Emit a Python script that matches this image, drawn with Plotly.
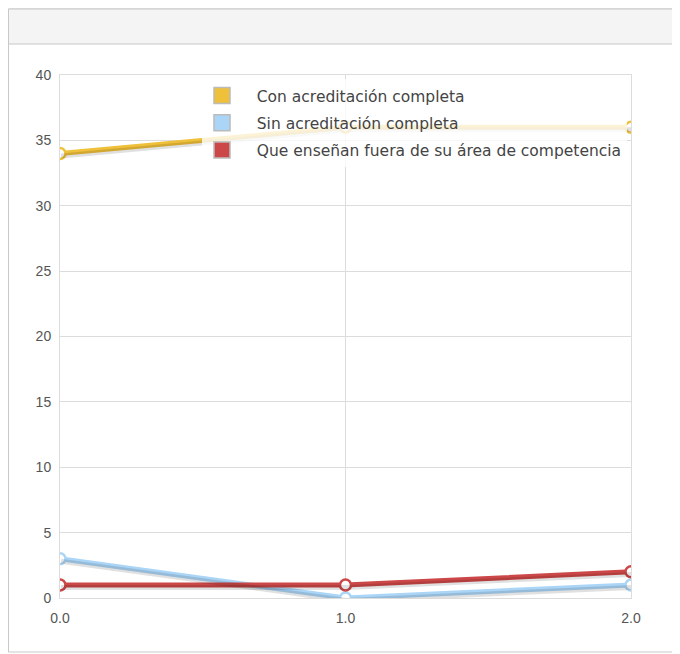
import plotly.graph_objects as go

x_vals = [0, 1, 2]
x_ticks = ["0.0", "1.0", "2.0"]
names = ["Con acreditación completa", "Sin acreditación completa",
         "Que enseñan fuera de su área de competencia"]
con_acred = [34, 36, 36]
sin_acred = [3, 0, 1]
fuera_area = [1, 1, 2]
colors = ["#EFC03A", "#AAD5F7", "#CC4747"]
series = [con_acred, sin_acred, fuera_area]

OFF = 8  # page margin of the browser
W, H = 680, 654
# plot area in screen pixels: x 60..631, y 75..598
L = 60 - OFF
T = 75 - OFF
R = W - (631 - OFF)
B = H - (598 - OFF)
pw, ph = W - L - R, H - T - B

def px(p):
    return (p - OFF - L) / pw

def py(q):
    return (H - B - (q - OFF)) / ph

fig = go.Figure()

# shadows (same data, drawn on shifted overlay axes)
for vals in series:
    fig.add_trace(go.Scatter(x=x_vals, y=vals, mode="lines", xaxis="x2", yaxis="y2",
                             line=dict(color="rgba(0,0,0,0.12)", width=5),
                             hoverinfo="skip", showlegend=False))

for name, vals, c in zip(names, series, colors):
    fig.add_trace(go.Scatter(x=x_vals, y=vals, mode="lines+markers", name=name,
                             line=dict(color=c, width=5),
                             marker=dict(size=11, color="white", line=dict(color=c, width=2.5)),
                             showlegend=False))

for i, (name, c) in enumerate(zip(names, colors)):
    fig.add_trace(go.Scatter(x=[None], y=[None], mode="markers", name="\u00a0\u00a0\u00a0" + name,
                             legendgroup="g%d" % i,
                             marker=dict(symbol="square", size=17, color=c,
                                         line=dict(color="#bbbbbb", width=1.5))))

dy = 2.5 * 40 / ph
dx = 1.0 * 2 / pw
tick_font = dict(family="Liberation Sans, Arial, sans-serif", size=14, color="#555")
fig.update_layout(
    width=W, height=H,
    margin=dict(l=L, r=R, t=T, b=B),
    paper_bgcolor="white", plot_bgcolor="rgba(0,0,0,0)",
    font=dict(family="DejaVu Sans, Verdana, sans-serif", size=12.6, color="#555"),
    xaxis=dict(range=[0, 2], tickvals=x_vals, ticktext=x_ticks, showgrid=True,
               gridcolor="#dcdcdc", gridwidth=1, showline=True, linecolor="#dcdcdc",
               mirror=True, zeroline=False, ticks="", ticklabelstandoff=7,
               tickfont=tick_font),
    yaxis=dict(range=[0, 40], dtick=5, showgrid=True, gridcolor="#dcdcdc", gridwidth=1,
               showline=True, linecolor="#dcdcdc", mirror=True, zeroline=False, ticks="",
               ticklabelstandoff=5, tickfont=tick_font),
    xaxis2=dict(range=[0 - dx, 2 - dx], overlaying="x", visible=False),
    yaxis2=dict(range=[0 + dy, 40 + dy], overlaying="y", visible=False),
    legend=dict(x=px(202), y=py(79), xanchor="left", yanchor="top",
                bgcolor="rgba(255,255,255,0.8)", borderwidth=0,
                font=dict(family="DejaVu Sans, Verdana, sans-serif", size=15.5, color="#444"),
                tracegroupgap=4, itemclick=False),
    showlegend=True,
    shapes=[
        dict(type="rect", xref="paper", yref="paper", x0=px(8.5), x1=px(700), y0=py(652), y1=py(9),
             line=dict(color="#c8c8c8", width=1), fillcolor="rgba(0,0,0,0)", layer="below"),
        dict(type="rect", xref="paper", yref="paper", x0=px(8.5), x1=px(700), y0=py(44), y1=py(9),
             line=dict(color="#c8c8c8", width=1), fillcolor="#f4f4f4", layer="below"),
    ],
)

fig.write_html("out.html")
